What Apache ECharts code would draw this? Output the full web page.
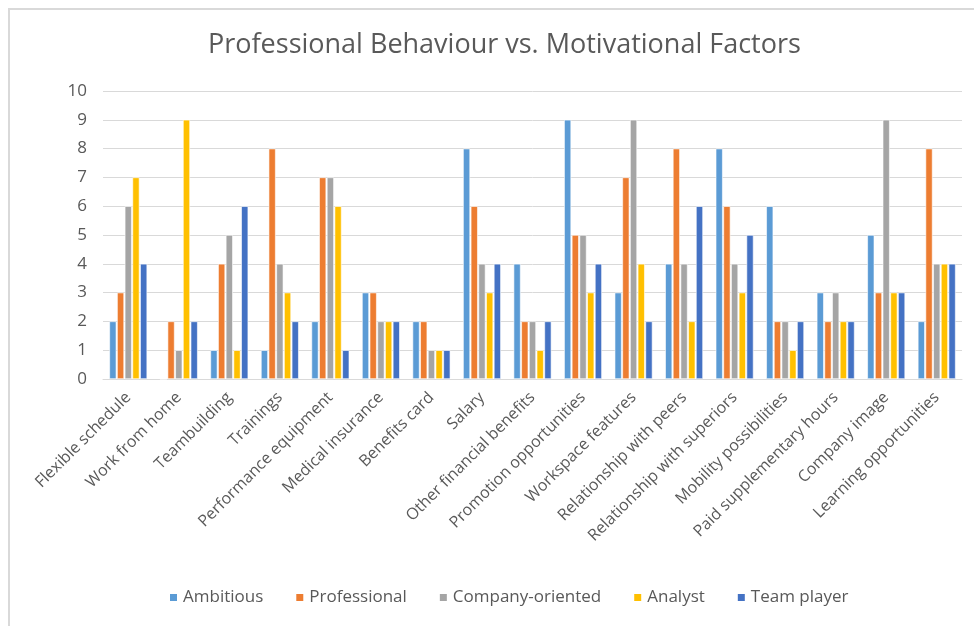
<!DOCTYPE html>
<html>
<head>
<meta charset="utf-8">
<script src="https://cdn.jsdelivr.net/npm/echarts@6/dist/echarts.min.js"></script>
<style>
  html, body { margin: 0; padding: 0; background: #fff; overflow: hidden; }
  #frame { position: absolute; left: 8px; top: 8px; width: 1000px; height: 700px; border: 2px solid #D9D9D9; }
  #chart { position: absolute; left: 0; top: 0; width: 974px; height: 626px; }
</style>
</head>
<body>
<div id="frame"></div>
<div id="chart"></div>
<script>
const categories = [
  'Flexible schedule', 'Work from home', 'Teambuilding', 'Trainings',
  'Performance equipment', 'Medical insurance', 'Benefits card', 'Salary',
  'Other financial benefits', 'Promotion opportunities', 'Workspace features',
  'Relationship with peers', 'Relationship with superiors', 'Mobility possibilities',
  'Paid supplementary hours', 'Company image', 'Learning opportunities'
]
const ambitious       = [2, 0, 1, 1, 2, 3, 2, 8, 4, 9, 3, 4, 8, 6, 3, 5, 2]
const professional    = [3, 2, 4, 8, 7, 3, 2, 6, 2, 5, 7, 8, 6, 2, 2, 3, 8]
const companyOriented = [6, 1, 5, 4, 7, 2, 1, 4, 2, 5, 9, 4, 4, 2, 3, 9, 4]
const analyst         = [7, 9, 1, 3, 6, 2, 1, 3, 1, 3, 4, 2, 3, 1, 2, 3, 4]
const teamPlayer      = [4, 2, 6, 2, 1, 2, 1, 4, 2, 4, 2, 6, 5, 2, 2, 3, 4]

const font = '"Open Sans", "Noto Sans", sans-serif'
const textColor = '#595959'

const seriesDefs = [
  { name: 'Ambitious', data: ambitious, color: '#5B9BD5' },
  { name: 'Professional', data: professional, color: '#ED7D31' },
  { name: 'Company-oriented', data: companyOriented, color: '#A5A5A5' },
  { name: 'Analyst', data: analyst, color: '#FFC000' },
  { name: 'Team player', data: teamPlayer, color: '#4472C4' },
]

const chart = echarts.init(document.getElementById('chart'))
chart.setOption({
  animation: false,
  color: seriesDefs.map(s => s.color),
  title: {
    text: 'Professional Behaviour vs. Motivational Factors',
    left: 203,
    top: 27,
    textStyle: { fontFamily: font, fontSize: 27, fontWeight: 'normal', color: textColor },
  },
  legend: {
    bottom: 15,
    left: 163,
    itemWidth: 9,
    itemHeight: 9,
    itemGap: 31,
    icon: 'rect',
    textStyle: { fontFamily: font, fontSize: 17, color: textColor },
  },
  grid: { left: 103, right: 12, top: 91, bottom: 247 },
  xAxis: {
    type: 'category',
    data: categories,
    axisLine: { lineStyle: { color: '#D9D9D9', width: 1 } },
    axisTick: { show: false },
    axisLabel: {
      interval: 0,
      rotate: 45,
      margin: 16,
      fontFamily: font,
      fontSize: 16,
      color: textColor,
    },
  },
  yAxis: {
    type: 'value',
    min: 0,
    max: 10,
    interval: 1,
    axisLine: { show: false },
    axisTick: { show: false },
    splitLine: { lineStyle: { color: '#D9D9D9', width: 1 } },
    axisLabel: { fontFamily: font, fontSize: 17, color: textColor, margin: 16 },
  },
  series: seriesDefs.map(s => ({
    name: s.name,
    type: 'bar',
    data: s.data,
    barWidth: 7,
    barGap: '10%',
    itemStyle: { color: s.color, borderColor: '#ffffff', borderWidth: 0.6 },
  })),
})
</script>
</body>
</html>
